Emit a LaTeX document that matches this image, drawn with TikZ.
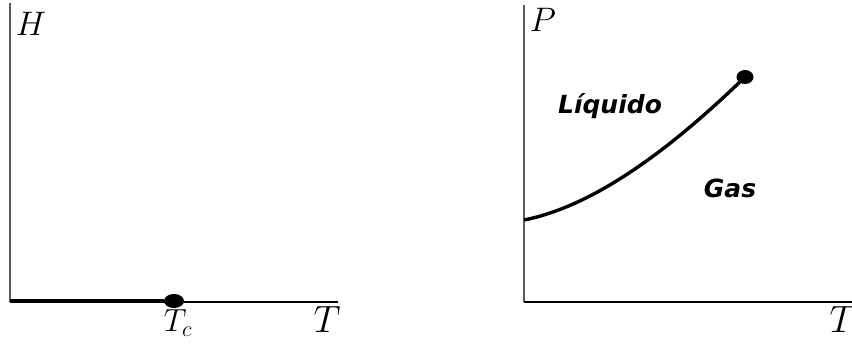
\RequirePackage{fix-cm}
\documentclass[tikz,border=0pt]{standalone}
\usepackage{fontspec}
\newfontfamily\phasefont{DejaVu Sans}
\usepackage{tikz}
\usetikzlibrary{shapes.geometric}

\begin{document}
\begin{tikzpicture}[x=1pt,y=1pt,
  vaxis/.style={black!65,line width=1.1pt},
  haxis/.style={black,line width=1.3pt},
  coex/.style={black,line width=4.5pt},
  crit/.style={ellipse,fill=black,inner sep=0pt},
  axlabel/.style={inner sep=0pt,font=\fontsize{38}{42}\selectfont},
  sidelabel/.style={inner sep=0pt,font=\fontsize{34}{38}\selectfont},
  phase/.style={inner sep=0pt,font=\phasefont\bfseries\itshape\fontsize{25}{30}\selectfont}]
\useasboundingbox (0,0) rectangle (852,343);
\coordinate (o1) at (10,41);
\coordinate (h1) at (10,340);
\coordinate (t1) at (338,41);
\coordinate (o2) at (524,41);
\coordinate (h2) at (524,338);
\coordinate (t2) at (852,41);
\coordinate (p0) at (524,123);
\draw[vaxis] (o1) -- (h1);
\draw[haxis] (o1) -- (t1);
\node[crit,minimum width=20pt,minimum height=14pt] (tc) at (174,42) {};
\draw[coex] ([yshift=1pt]o1) -- (tc);
\node[sidelabel] (hlab) at (31,319) {$H$};
\node[inner sep=0pt,font=\fontsize{32}{36}\selectfont] (tclab) at (178,20) {$T_c$};
\node[axlabel] (tlab1) at (327,23) {$T$};
\draw[vaxis] (o2) -- (h2);
\draw[haxis] (o2) -- (t2);
\node[crit,minimum width=17pt,minimum height=14pt] (cp) at (745,266) {};
\draw[coex,line width=3.4pt] (p0) .. controls (600,138) and (680,203) .. (cp.center);
\node[sidelabel] (plab) at (543,323) {$P$};
\node[axlabel] (tlab2) at (843,23) {$T$};
\node[phase] (liq) at (610,237) {Líquido};
\node[phase] (gas) at (730,155) {Gas};
\end{tikzpicture}
\end{document}
